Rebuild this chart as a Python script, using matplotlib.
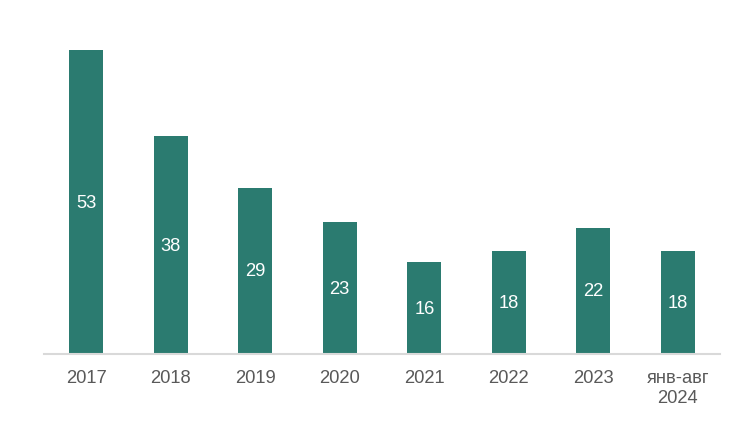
import matplotlib
matplotlib.use("Agg")
import matplotlib.pyplot as plt

categories = ["2017", "2018", "2019", "2020", "2021", "2022", "2023", "янв-авг\n2024"]
values = [53, 38, 29, 23, 16, 18, 22, 18]

plt.rcParams['font.family'] = ['Liberation Sans', 'DejaVu Sans']

W, H = 756, 435
fig = plt.figure(figsize=(W / 100, H / 100), dpi=100)
ax = fig.add_axes([44 / W, (H - 355) / H, 676 / W, 344 / H])

x = list(range(len(categories)))
bars = ax.bar(x, values, width=0.4, color="#2b7b70")
for b, v in zip(bars, values):
    ax.text(b.get_x() + b.get_width() / 2, v / 2, str(v), ha="center", va="center",
            color="white", fontsize=13.2)

ax.set_xlim(-0.5, len(categories) - 0.5)
ax.set_ylim(0, 60)
ax.set_xticks(x)
ax.set_xticklabels(categories, fontsize=13.2, color="#595959", linespacing=1.27)
ax.tick_params(axis="x", length=0, pad=10.5)
ax.set_yticks([])
for s in ["top", "right", "left"]:
    ax.spines[s].set_visible(False)
ax.spines["bottom"].set_color("#d9d9d9")
ax.spines["bottom"].set_linewidth(1.5)

fig.savefig("out.png", dpi=100)
